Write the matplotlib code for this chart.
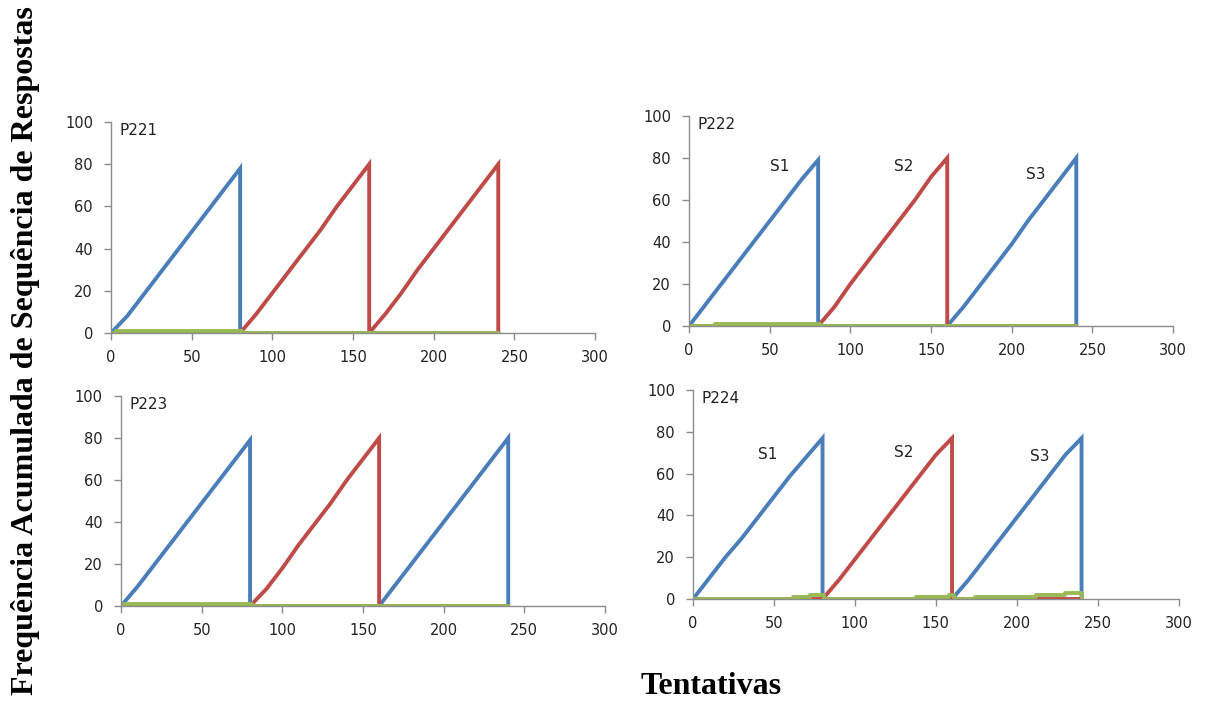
import matplotlib.pyplot as plt
import numpy as np

# trial offsets inside each 80-trial block, and where each block starts
trial_marks = [0, 10, 20, 30, 40, 50, 60, 70, 80]
block_starts = [0, 80, 160]
block_len = 80

# cumulative correct sequences per block
p221_colors = ['blue', 'red', 'red']
p221_b1 = [0, 8, 18, 28, 38, 48, 58, 68, 78]
p221_b2 = [0, 9, 19, 29, 39, 49, 60, 70, 80]
p221_b3 = [0, 9, 19, 30, 40, 50, 60, 70, 80]
p221_green_x = [0, 3, 81, 240]
p221_green_y = [0, 1, 0, 0]

p222_colors = ['blue', 'red', 'blue']
p222_b1 = [0, 10, 20, 30, 40, 50, 60, 70, 79]
p222_b2 = [0, 9, 20, 30, 40, 50, 60, 71, 80]
p222_b3 = [0, 9, 19, 29, 39, 50, 60, 70, 80]
p222_green_x = [0, 16, 81, 240]
p222_green_y = [0, 1, 0, 0]

p223_colors = ['blue', 'red', 'blue']
p223_b1 = [0, 9, 19, 29, 39, 49, 59, 69, 79]
p223_b2 = [0, 8, 18, 29, 39, 49, 60, 70, 80]
p223_b3 = [0, 10, 20, 30, 40, 50, 60, 70, 80]
p223_green_x = [0, 2, 81, 240]
p223_green_y = [0, 1, 0, 0]

p224_colors = ['blue', 'red', 'blue']
p224_b1 = [0, 10, 20, 29, 39, 49, 59, 68, 77]
p224_b2 = [0, 9, 19, 29, 39, 49, 59, 69, 77]
p224_b3 = [0, 9, 19, 29, 39, 49, 59, 69, 77]
p224_green_x = [0, 62, 72, 81, 138, 158, 161, 174, 212, 230, 240, 240]
p224_green_y = [0, 1, 2, 0, 1, 2, 0, 1, 2, 3, 0, 0]

panel_names = ['P221', 'P222', 'P223', 'P224']
sequence_labels = ['S1', 'S2', 'S3']

colors = {'blue': '#4A7EBB', 'red': '#BE4B48', 'green': '#98B954'}


def build_series(blocks, block_colors, which):
    xs, ys = [], []
    for start, col, vals in zip(block_starts, block_colors, blocks):
        if col == which:
            xs += [start + t for t in trial_marks]
            ys += list(vals)
            xs.append(start + block_len)
            ys.append(0)
        else:
            xs += [start, start + block_len]
            ys += [0, 0]
    return xs, ys


panels = [
    (panel_names[0], [p221_b1, p221_b2, p221_b3], p221_colors, p221_green_x, p221_green_y),
    (panel_names[1], [p222_b1, p222_b2, p222_b3], p222_colors, p222_green_x, p222_green_y),
    (panel_names[2], [p223_b1, p223_b2, p223_b3], p223_colors, p223_green_x, p223_green_y),
    (panel_names[3], [p224_b1, p224_b2, p224_b3], p224_colors, p224_green_x, p224_green_y),
]

# axes boxes in figure fractions [left, bottom, width, height]
boxes = [
    [0.0917, 0.525, 0.3997, 0.301],
    [0.569, 0.535, 0.3997, 0.2996],
    [0.0999, 0.1355, 0.3997, 0.2996],
    [0.5723, 0.1455, 0.401, 0.298],
]

# where the S1/S2/S3 tags sit (only on the right-hand panels)
tag_pos = {
    'P222': [(56, 76), (133, 76), (215, 72)],
    'P224': [(46, 69), (130, 70), (214, 68)],
}

fig = plt.figure(figsize=(12.11, 7.01), dpi=100)

for (name, blocks, bcols, gx, gy), box in zip(panels, boxes):
    ax = fig.add_axes(box)
    for c in ['blue', 'red']:
        x, y = build_series(blocks, bcols, c)
        ax.plot(x, y, color=colors[c], linewidth=2.8, solid_joinstyle='miter')
    ax.plot(gx, gy, color=colors['green'], linewidth=2.8, drawstyle='steps-post')

    ax.set_xlim(0, 300)
    ax.set_ylim(0, 100)
    ax.set_xticks(np.arange(0, 301, 50))
    ax.set_yticks(np.arange(0, 101, 20))
    for s in ['top', 'right']:
        ax.spines[s].set_visible(False)
    for s in ['left', 'bottom']:
        ax.spines[s].set_color('#8c8c8c')
        ax.spines[s].set_linewidth(1.0)
    ax.tick_params(direction='out', length=5, width=1, color='#8c8c8c',
                   labelsize=10.5, labelcolor='#222222')
    ax.tick_params(axis='y', pad=8)
    ax.tick_params(axis='x', pad=7)

    ax.text(0.018, 0.96, name, transform=ax.transAxes, fontsize=11,
            color='#222222', ha='left', va='center')
    if name in tag_pos:
        for lab, (tx, ty) in zip(sequence_labels, tag_pos[name]):
            ax.text(tx, ty, lab, fontsize=11, color='#222222',
                    ha='center', va='center')

fig.text(0.021, 0.5, 'Frequência Acumulada de Sequência de Respostas',
         rotation=90, ha='center', va='center', fontsize=23,
         fontweight='bold', family='Liberation Serif')
fig.text(0.587, 0.021, 'Tentativas', ha='center', va='center', fontsize=23,
         fontweight='bold', family='Liberation Serif')

fig.savefig('out.png', dpi=100)
